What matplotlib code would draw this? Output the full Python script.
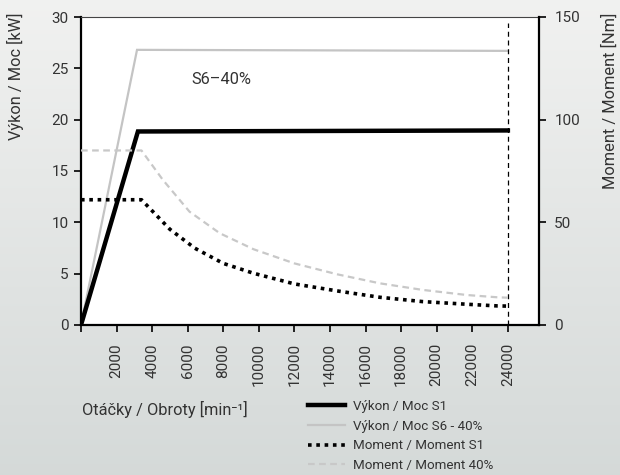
import numpy as np
import matplotlib
matplotlib.use("Agg")
import matplotlib.pyplot as plt

plt.rcParams['font.family'] = ['Roboto', 'DejaVu Sans']

# power curves [rpm], [kW]
rpm_s1 = [0, 3200, 24000]
power_s1 = [0, 18.85, 18.95]
rpm_s6 = [0, 3150, 24000]
power_s6 = [0, 26.8, 26.7]

# torque curves [rpm], [Nm]
rpm_t1 = [0, 3400, 5000, 6400, 8000, 9700, 12000, 14400, 16800, 19200, 21700, 23400, 24000]
torque_s1 = [61, 61, 46.6, 37.4, 30.0, 25.2, 20.0, 16.6, 13.5, 11.4, 10.1, 9.3, 9.2]
rpm_t40 = [0, 3400, 4600, 6100, 7800, 9700, 12000, 14400, 16800, 19200, 21700, 23400, 24000]
torque_40 = [85, 85, 70.7, 55.2, 44.7, 36.9, 30.0, 24.7, 20.3, 17.1, 14.6, 13.5, 13.3]

max_rpm = 24000
xticks = list(range(0, 24001, 2000))
power_ticks = [0, 5, 10, 15, 20, 25, 30]
torque_ticks = [0, 50, 100, 150]

labels = ["Výkon / Moc S1", "Výkon / Moc S6 - 40%",
          "Moment / Moment S1", "Moment / Moment 40%"]

fig = plt.figure(figsize=(6.2, 4.75), dpi=100)

# background gradient
bg = fig.add_axes([0, 0, 1, 1], zorder=-10)
grad = np.linspace(0, 1, 256)[:, None]
top = np.array([0.945, 0.947, 0.943])
bot = np.array([0.835, 0.853, 0.849])
img = top[None, None, :] * (1 - grad[:, :, None]) + bot[None, None, :] * grad[:, :, None]
bg.imshow(img, aspect='auto', extent=[0, 1, 0, 1])
bg.axis('off')

ax = fig.add_axes([81 / 620, 1 - 325 / 475, 458 / 620, 308 / 475])
ax.set_facecolor('white')
ax2 = ax.twinx()

ax.plot(rpm_s6, power_s6, color='#c4c4c4', lw=1.6, solid_joinstyle='miter')
ax.plot(rpm_s1, power_s1, color='black', lw=3.2, solid_joinstyle='miter')
ax2.plot(rpm_t40, torque_40, color='#c8c8c8', lw=1.6, linestyle=(0, (3, 2)))
ax2.plot(rpm_t1, torque_s1, color='black', lw=2.6, linestyle=(0, (1, 1.3)))
ax.axvline(max_rpm, ymax=0.98, color='black', lw=0.9, linestyle=(0, (4, 3)))

ax.text(6200, 23.9, "S6–40%", fontsize=11.8, color='#333333', va='center')

ax.set_xlim(0, 25750)
ax.set_ylim(0, 30)
ax2.set_ylim(0, 150)
ax.set_xticks(xticks)
ax.set_xticklabels([''] + [str(t) for t in xticks[1:]], rotation=90)
ax.set_yticks(power_ticks)
ax2.set_yticks(torque_ticks)

for a in (ax, ax2):
    for s in a.spines.values():
        s.set_visible(False)
ax.spines['left'].set_visible(True)
ax.spines['left'].set_linewidth(1.6)
ax.spines['bottom'].set_visible(True)
ax.spines['bottom'].set_linewidth(1.6)
ax.spines['top'].set_visible(True)
ax.spines['top'].set_linewidth(0.8)
ax.spines['top'].set_color('#444444')
ax2.spines['right'].set_visible(True)
ax2.spines['right'].set_linewidth(1.6)

ax.tick_params(axis='both', length=5, width=1.2, labelsize=11, colors='#333333')
ax.tick_params(axis='x', pad=8, color='black')
ax.tick_params(axis='y', pad=4, color='black')
ax2.tick_params(axis='y', length=5, width=1.2, labelsize=11, labelcolor='#333333',
                color='black', pad=6)

fig.text(15 / 620, 1 - 13 / 475, "Výkon / Moc [kW]", rotation=90, ha='center', va='top',
         fontsize=11.8, color='#333333')
fig.text(610 / 620, 1 - 13 / 475, "Moment / Moment [Nm]", rotation=90, ha='center', va='top',
         fontsize=11.8, color='#333333')
fig.text(82 / 620, 1 - 409 / 475, "Otáčky / Obroty [min⁻¹]", ha='left', va='center',
         fontsize=11.8, color='#333333')

handles = ax.get_lines()[1::-1] + ax2.get_lines()[::-1]
leg = fig.legend(handles, labels, loc='upper left', bbox_to_anchor=(308 / 620, 1 - 400 / 475),
                 frameon=False, fontsize=9.6, handlelength=2.8, handletextpad=0.6,
                 labelspacing=0.5, borderpad=0, borderaxespad=0)
for t in leg.get_texts():
    t.set_color('#333333')

fig.savefig("out.png", dpi=100)
